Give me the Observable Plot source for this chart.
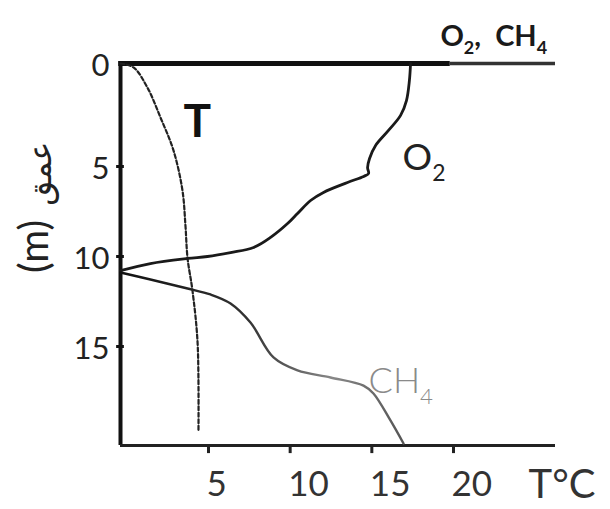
<!DOCTYPE html>
<html><head><meta charset="utf-8">
<script src="https://cdn.jsdelivr.net/npm/d3@7"></script>
<script src="https://cdn.jsdelivr.net/npm/@observablehq/plot@0.6"></script>
<style>body{margin:0;background:#fff} svg{display:block}</style>
</head><body><div id="chart"></div>
<script>
// Temperature profile (dotted): depth (m) and T (°C)
const tempDepth = [0, 0.19, 1.17, 2.62, 4.22, 6.33, 8.28, 10.1, 11.9, 14.8, 19.7];
const tempValue = [0, 0.74, 1.53, 2.27, 3.01, 3.52, 3.69, 3.81, 4.09, 4.38, 4.43];
// O2 profile
const o2Depth = [0, 0.83, 1.8, 2.52, 3.25, 3.98, 4.61, 5.06, 5.39, 5.55, 5.89, 6.44, 6.89, 7.61, 8.17, 8.94, 9.5, 9.78, 10.0, 10.11, 10.39, 10.78];
const o2Value = [17.37, 17.3, 17.12, 16.76, 16.02, 15.23, 14.86, 14.74, 14.8, 14.5, 13.51, 12.04, 11.25, 10.45, 9.84, 8.8, 7.76, 6.35, 4.94, 3.81, 1.70, 0];
// CH4 profile
const ch4Depth = [10.89, 11.28, 11.78, 12.11, 12.61, 13.67, 15.61, 16.33, 16.72, 17.17, 17.61, 19.11, 20.39];
const ch4Value = [0, 1.70, 3.81, 5.12, 6.35, 7.57, 8.98, 10.45, 12.47, 14.49, 15.1, 16.14, 16.94];
// Ticks
const xTicks = [5, 10, 15, 20];
const yTicks = [0, 5, 10, 15];
const yInnerTicks = [5, 10, 15];

const X_MAX = 26.25, Y_MAX = 20.5;
const toRows = (D, V) => D.map((d, i) => ({depth: d, value: V[i]}));

// hand-drawn axes are not uniformly spaced: piecewise-linear transforms
const xWarp = d3.scaleLinear().domain([0, 5, 20, X_MAX]).range([120, 208, 453, 555]);
const yWarp = d3.scaleLinear().domain([0, 5, Y_MAX]).range([63, 166, 445]);

const chart = Plot.plot({
  width: 610, height: 509,
  margin: 0,
  style: {fontFamily: "Lato, 'DejaVu Sans', sans-serif", background: "white", overflow: "visible"},
  x: {type: "linear", transform: v => xWarp(v), domain: [0, 610], range: [0, 610], axis: null},
  y: {type: "linear", transform: v => yWarp(v), domain: [0, 509], range: [0, 509], axis: null},
  marks: [
    // frame lines
    Plot.ruleY([0], {x1: 19.8, x2: X_MAX, stroke: "#333", strokeWidth: 3.5}),
    Plot.ruleY([0], {x1: -0.1, x2: 19.8, stroke: "#111", strokeWidth: 5}),
    Plot.ruleX([0], {y1: -0.1, y2: Y_MAX, stroke: "#111", strokeWidth: 4}),
    Plot.ruleY([Y_MAX], {x1: 0, x2: X_MAX, stroke: "#222", strokeWidth: 3}),
    Plot.ruleX(xTicks, {y1: Y_MAX, y2: Y_MAX + 0.45, stroke: "#222", strokeWidth: 3}),
    Plot.ruleY(yInnerTicks, {x1: -0.22, x2: 0.22, stroke: "#111", strokeWidth: 3}),
    // tick labels
    Plot.text(xTicks, {x: d => d, y: Y_MAX, text: d => String(d), dy: 39, dx: -2, textAnchor: "start", fontSize: 35, fill: "#333"}),
    Plot.text(yTicks, {x: 0, y: d => d, text: d => String(d), dx: -11, dy: 3, textAnchor: "end", fontSize: 31, fill: "#222"}),
    // curves
    Plot.line(toRows(tempDepth, tempValue), {x: "value", y: "depth", curve: "catmull-rom", stroke: "#222", strokeWidth: 2.2, strokeDasharray: "4,2.5"}),
    Plot.line(toRows(o2Depth, o2Value), {x: "value", y: "depth", curve: "catmull-rom", stroke: "#1a1a1a", strokeWidth: 2.8}),
    Plot.line(toRows(ch4Depth, ch4Value), {x: "value", y: "depth", curve: "catmull-rom", stroke: "#333", strokeWidth: 2.4, ariaDescription: "ch4line"}),
    // labels
    Plot.text(["O2,\u00a0\u00a0CH4"], {x: 19.2, y: -0.87, lineAnchor: "bottom", textAnchor: "start", fontSize: 29, fontWeight: "bold", fill: "#1a1a1a", ariaDescription: "chem"}),
    Plot.text(["O2"], {x: 16.88, y: 5.22, lineAnchor: "bottom", textAnchor: "start", fontSize: 37, fill: "#222", ariaDescription: "chem"}),
    Plot.text(["CH4"], {x: 14.8, y: 17.61, lineAnchor: "bottom", textAnchor: "start", fontSize: 36, fontWeight: 300, fill: "#8a8a8a", ariaDescription: "chem"}),
    Plot.text(["T"], {x: 3.58, y: 3.59, lineAnchor: "bottom", textAnchor: "start", fontSize: 46, fontWeight: "bold", fill: "#111"}),
    Plot.text(["T°C"], {x: 24.6, y: 23.39, lineAnchor: "bottom", textAnchor: "start", fontSize: 40, fill: "#333"}),
    Plot.text(["(m)"], {x: -4.83, y: 9.44, rotate: -90, textAnchor: "middle", fontSize: 40, fill: "#222"}),
    Plot.text(["عمق"], {x: -4.55, y: 5.39, rotate: -90, textAnchor: "middle", fontSize: 32, fill: "#222", fontFamily: "'DejaVu Sans', sans-serif"})
  ]
});

// subscripts for chemical formulas
const NS = "http://www.w3.org/2000/svg";
chart.querySelectorAll('g[aria-description="chem"] text').forEach(t => {
  const g = t.parentNode;
  const fs = parseFloat(t.getAttribute("font-size") || g.getAttribute("font-size")) || 30;
  const s = t.textContent;
  t.textContent = "";
  const parts = s.split(/(\d)/);
  let down = false;
  parts.forEach(p => {
    if (!p) return;
    const ts = document.createElementNS(NS, "tspan");
    if (/^\d$/.test(p)) {
      ts.setAttribute("font-size", (fs * 0.62) + "px");
      ts.setAttribute("dy", (fs * 0.28) + "px");
      down = true;
    } else if (down) {
      ts.setAttribute("dy", (-fs * 0.28) + "px");
      down = false;
    }
    ts.textContent = p;
    t.appendChild(ts);
  });
});

// gradient for CH4 line (dark on the left, grey on the right)
const defs = document.createElementNS(NS, "defs");
defs.innerHTML = '<linearGradient id="ch4g" gradientUnits="userSpaceOnUse" x1="120" y1="0" x2="403" y2="0">' +
  '<stop offset="0" stop-color="#111"/><stop offset="0.45" stop-color="#333"/><stop offset="0.75" stop-color="#888"/><stop offset="1" stop-color="#555"/></linearGradient>';
chart.insertBefore(defs, chart.firstChild);
chart.querySelectorAll('g[aria-description="ch4line"] path').forEach(p => p.setAttribute("stroke", "url(#ch4g)"));

document.getElementById("chart").appendChild(chart);
</script>
</body></html>
